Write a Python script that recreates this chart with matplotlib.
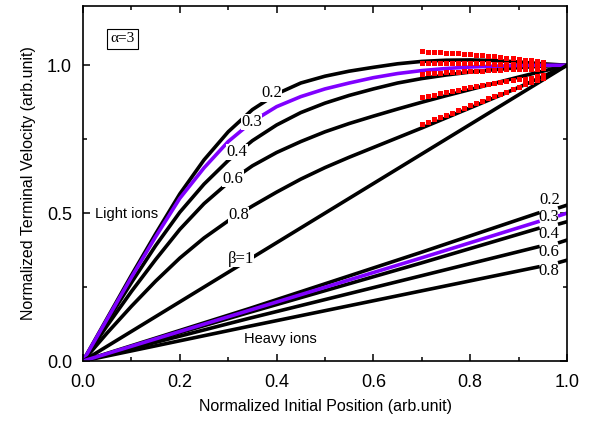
import numpy as np
import matplotlib
matplotlib.use('Agg')
import matplotlib.pyplot as plt
from matplotlib.ticker import MultipleLocator

plt.rcParams['font.family'] = ['Liberation Sans', 'DejaVu Sans']

# light ions, beta = 0.2, 0.3, 0.4, 0.6, 0.8, 1
lx = [0, 0.05, 0.1, 0.15, 0.2, 0.25, 0.3, 0.35, 0.4, 0.45, 0.5,
      0.55, 0.6, 0.65, 0.7, 0.75, 0.8, 0.85, 0.9, 0.95, 1.0]
ly02 = [0, 0.145, 0.29, 0.43, 0.565, 0.68, 0.775, 0.85, 0.903, 0.94, 0.963,
        0.98, 0.993, 1.005, 1.013, 1.017, 1.018, 1.016, 1.011, 1.005, 1.0]
ly03 = [0, 0.142, 0.283, 0.42, 0.55, 0.653, 0.742, 0.81, 0.86, 0.894, 0.92,
        0.94, 0.958, 0.972, 0.982, 0.989, 0.994, 0.997, 0.999, 1.0, 1.0]
ly04 = [0, 0.135, 0.265, 0.39, 0.503, 0.598, 0.678, 0.745, 0.798, 0.84, 0.872,
        0.898, 0.92, 0.94, 0.955, 0.967, 0.977, 0.985, 0.992, 0.997, 1.0]
ly06 = [0, 0.12, 0.235, 0.343, 0.445, 0.532, 0.603, 0.66, 0.705, 0.742, 0.775,
        0.803, 0.828, 0.852, 0.875, 0.897, 0.918, 0.939, 0.96, 0.98, 1.0]
ly08 = [0, 0.095, 0.185, 0.27, 0.348, 0.416, 0.474, 0.524, 0.571, 0.615, 0.654,
        0.689, 0.722, 0.755, 0.788, 0.822, 0.856, 0.89, 0.925, 0.962, 1.0]
lx10 = [0, 1.0]
ly10 = [0, 1.0]

# heavy ions (gap where the labels sit)
hx = [0, 0.345, 0.696, 0.94, np.nan, 0.985, 1.0]
hy02 = [0, 0.178, 0.366, 0.500, np.nan, 0.519, 0.527]
hy03 = [0, 0.172, 0.347, 0.471, np.nan, 0.492, 0.500]
hy04 = [0, 0.165, 0.330, 0.448, np.nan, 0.464, 0.471]
hy06 = [0, 0.145, 0.287, 0.386, np.nan, 0.401, 0.409]
hy08 = [0, 0.118, 0.236, 0.318, np.nan, 0.334, 0.341]

# red squares near x=1
rx = [0.7, 0.7125, 0.725, 0.7375, 0.75, 0.7625, 0.775, 0.7875, 0.8, 0.8125, 0.825,
      0.8375, 0.85, 0.8625, 0.875, 0.8875, 0.9, 0.9125, 0.925, 0.9375, 0.95]
r02 = [1.047, 1.046, 1.045, 1.044, 1.043, 1.042, 1.040, 1.039, 1.037, 1.036, 1.034,
       1.032, 1.030, 1.028, 1.026, 1.024, 1.022, 1.019, 1.017, 1.014, 1.011]
r03 = [1.009, 1.009, 1.009, 1.009, 1.009, 1.008, 1.008, 1.008, 1.007, 1.007, 1.006,
       1.006, 1.005, 1.005, 1.004, 1.004, 1.003, 1.002, 1.002, 1.001, 1.000]
r04 = [0.972, 0.973, 0.974, 0.975, 0.976, 0.977, 0.978, 0.979, 0.980, 0.981, 0.982,
       0.983, 0.984, 0.985, 0.986, 0.986, 0.987, 0.988, 0.988, 0.989, 0.990]
r06 = [0.891, 0.896, 0.901, 0.905, 0.910, 0.914, 0.918, 0.922, 0.926, 0.930, 0.934,
       0.937, 0.940, 0.943, 0.946, 0.949, 0.952, 0.955, 0.958, 0.962, 0.966]
r08 = [0.801, 0.809, 0.817, 0.825, 0.833, 0.840, 0.848, 0.856, 0.864, 0.872, 0.880,
       0.888, 0.895, 0.903, 0.911, 0.919, 0.927, 0.935, 0.943, 0.950, 0.958]

light_labels = ['0.2', '0.3', '0.4', '0.6', '0.8', '\u03b2=1']
light_lab_pos = [(0.39, 0.905), (0.348, 0.808), (0.318, 0.707), (0.31, 0.617), (0.321, 0.493), (0.326, 0.345)]
heavy_labels = ['0.2', '0.3', '0.4', '0.6', '0.8']
heavy_lab_pos = [(0.965, 0.544), (0.962, 0.486), (0.962, 0.429), (0.962, 0.368), (0.962, 0.304)]

purple = '#8000ff'
lw = 2.6

fig = plt.figure(figsize=(5.9, 4.21), dpi=100)
ax = fig.add_axes([0.1407, 0.1425, 0.8203, 0.843])

for yy, c in [(ly02, 'k'), (ly04, 'k'), (ly06, 'k'), (ly08, 'k'), (ly03, purple)]:
    ax.plot(lx, yy, color=c, lw=lw, zorder=2)
ax.plot(lx10, ly10, color='k', lw=lw, zorder=2)
for yy, c in [(hy02, 'k'), (hy04, 'k'), (hy06, 'k'), (hy08, 'k'), (hy03, purple)]:
    ax.plot(hx, yy, color=c, lw=lw, zorder=2)
for yy in [r02, r03, r04, r06, r08]:
    ax.plot(rx, yy, ls='none', marker='s', ms=3.6, mew=0, color='#ff0000', zorder=4)

for t, (x, y) in zip(light_labels, light_lab_pos):
    ax.text(x, y, t, family='Liberation Serif', fontsize=12, ha='center', va='center', zorder=3,
            bbox=dict(fc='white', ec='none', pad=0.3))
for t, (x, y) in zip(heavy_labels, heavy_lab_pos):
    ax.text(x, y, t, family='Liberation Serif', fontsize=12, ha='center', va='center', zorder=3)

ax.text(0.091, 0.497, 'Light ions', fontsize=10.5, ha='center', va='center')
ax.text(0.407, 0.074, 'Heavy ions', fontsize=10.5, ha='center', va='center')
ax.text(0.082, 1.09, '\u03b1=3', family='Liberation Serif', fontsize=11, ha='center', va='center',
        bbox=dict(fc='white', ec='k', lw=0.8, pad=2.5))

ax.set_xlim(0, 1.0)
ax.set_ylim(0, 1.2)
ax.xaxis.set_major_locator(MultipleLocator(0.2))
ax.xaxis.set_minor_locator(MultipleLocator(0.1))
ax.yaxis.set_major_locator(MultipleLocator(0.5))
ax.yaxis.set_minor_locator(MultipleLocator(0.25))
ax.tick_params(which='both', direction='in', top=True, right=True, width=1.1, labelsize=13)
ax.tick_params(which='major', length=5)
ax.tick_params(which='minor', length=3)
ax.tick_params(axis='x', pad=9)
ax.tick_params(axis='y', pad=8)
for s in ax.spines.values():
    s.set_linewidth(1.2)
ax.set_xlabel('Normalized Initial Position (arb.unit)', fontsize=11.5, labelpad=6)
ax.set_ylabel('Normalized Terminal Velocity (arb.unit)', fontsize=11.5, labelpad=8)

fig.savefig('out.png', dpi=100)
